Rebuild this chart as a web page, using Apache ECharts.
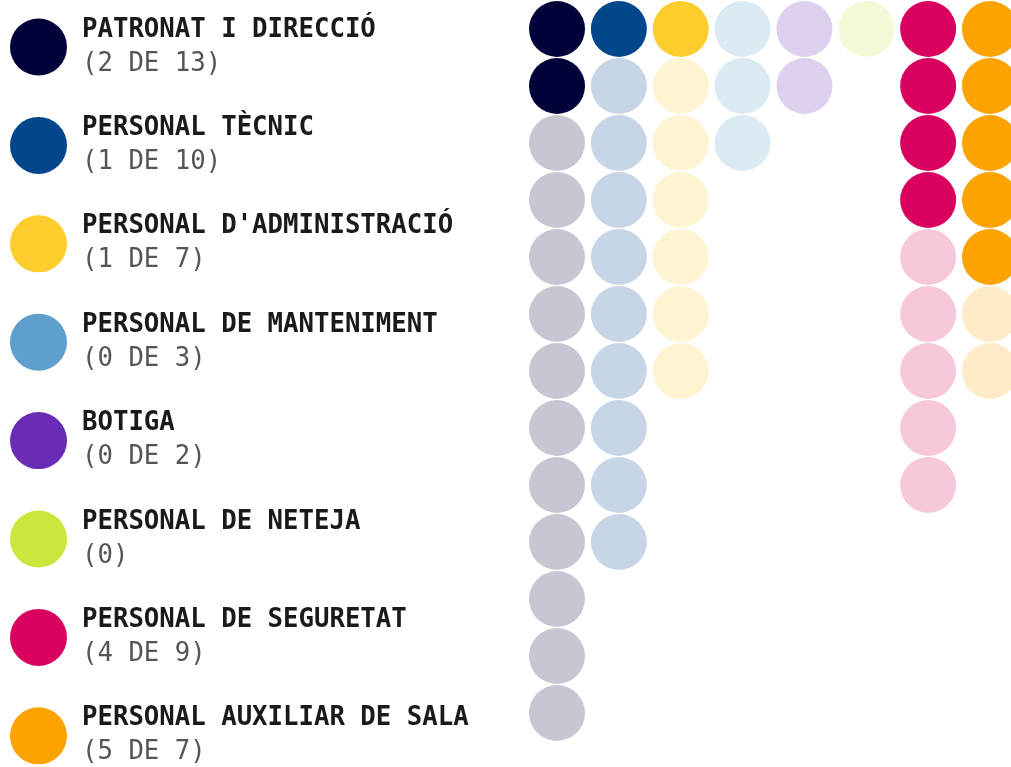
<!DOCTYPE html>
<html>
<head>
<meta charset="utf-8">
<script src="https://cdn.jsdelivr.net/npm/echarts@6/dist/echarts.min.js"></script>
<style>
html,body{margin:0;padding:0;background:#fff;}
#c{width:1011px;height:767px;}
</style>
</head>
<body>
<div id="c"></div>
<script>
var categories = ["PATRONAT I DIRECCIÓ", "PERSONAL TÈCNIC", "PERSONAL D'ADMINISTRACIÓ", "PERSONAL DE MANTENIMENT", "BOTIGA", "PERSONAL DE NETEJA", "PERSONAL DE SEGURETAT", "PERSONAL AUXILIAR DE SALA"];
var women = [2, 1, 1, 0, 0, 0, 4, 5];
var dotsShown = [13, 10, 7, 3, 2, 1, 9, 7];
var subtitles = ["(2 DE 13)", "(1 DE 10)", "(1 DE 7)", "(0 DE 3)", "(0 DE 2)", "(0)", "(4 DE 9)", "(5 DE 7)"];
var colors = ["#02023a", "#02468c", "#fdcd2e", "#5f9fce", "#6a2bb5", "#cde63e", "#d9005f", "#fda300"];

var series = categories.map(function (name, i) {
  var data = [];
  for (var k = 0; k < dotsShown[i]; k++) {
    data.push({
      value: [i, k],
      itemStyle: k < women[i] ? { opacity: 1 } : { opacity: 0.22 }
    });
  }
  return {
    name: name,
    type: 'scatter',
    symbol: 'circle',
    symbolSize: 56,
    clip: false,
    itemStyle: { color: colors[i], opacity: 1 },
    emphasis: { disabled: true },
    data: data
  };
});

var chart = echarts.init(document.getElementById('c'));
chart.setOption({
  animation: false,
  backgroundColor: '#fff',
  grid: { left: 557, right: 21, top: 29, height: 684 },
  xAxis: { type: 'value', min: 0, max: 7, show: false },
  yAxis: { type: 'value', min: 0, max: 12, inverse: true, show: false },
  legend: {
    orient: 'vertical',
    left: 10,
    top: 17,
    height: 800,
    padding: 0,
    itemWidth: 57,
    itemHeight: 57,
    itemGap: 38.4,
    icon: 'circle',
    selectedMode: false,
    data: categories,
    formatter: function (name) {
      var i = categories.indexOf(name);
      return '{t|' + name + '}\n{s|' + subtitles[i] + '}';
    },
    textStyle: {
      rich: {
        t: { fontFamily: 'DejaVu Sans Mono', fontWeight: 'bold', fontSize: 25.7, color: '#1a1a1a', lineHeight: 34, padding: [0, 0, 0, 10] },
        s: { fontFamily: 'DejaVu Sans Mono', fontWeight: 'normal', fontSize: 25.7, color: '#555555', lineHeight: 34, padding: [0, 0, 0, 10] }
      }
    }
  },
  series: series
});
</script>
</body>
</html>
